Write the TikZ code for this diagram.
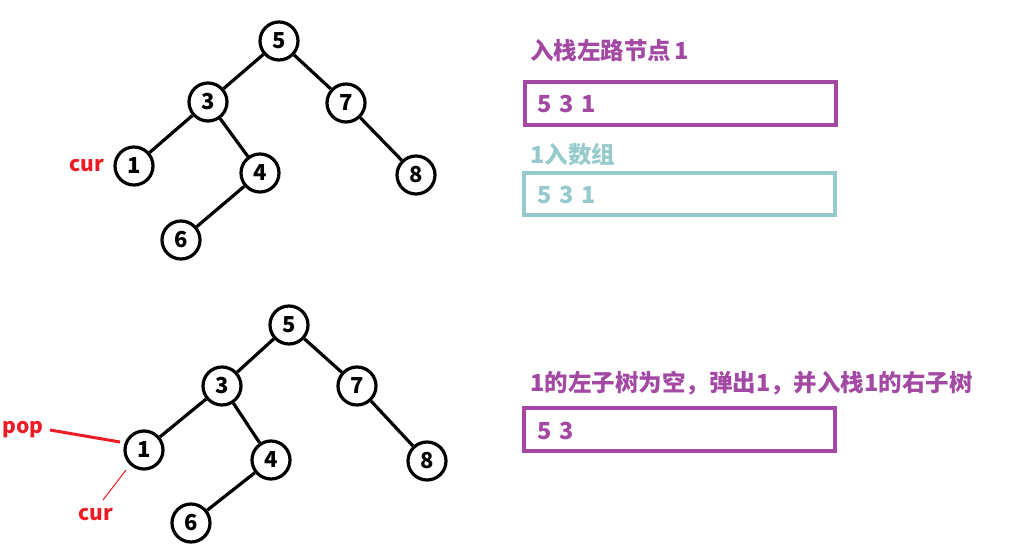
\documentclass[tikz,border=0pt]{standalone}
\usepackage{fontspec}
\setmainfont{Noto Sans CJK SC}
\newfontfamily\cjk{Noto Sans CJK SC}
\definecolor{ppl}{RGB}{163,73,164}
\definecolor{teal2}{RGB}{150,202,204}
\definecolor{red2}{RGB}{237,28,36}
\begin{document}
\begin{tikzpicture}[x=1pt,y=-1pt,
  tn/.style={circle,draw=black,line width=3.2pt,minimum size=38pt,inner sep=0pt,font=\cjk\bfseries\fontsize{22}{22}\selectfont},
  ed/.style={line width=3.2pt},
  lab/.style={anchor=west,inner sep=0pt,font=\cjk\bfseries\fontsize{23.5}{23.5}\selectfont},
  sbox/.style={draw,line width=3.4pt,inner sep=0pt},
  redlab/.style={text=red2,inner sep=0pt,font=\cjk\bfseries\fontsize{21}{21}\selectfont}]
\useasboundingbox (0,0) rectangle (1033,556);
% top tree
\node[tn] (a5) at (279,41) {5};
\node[tn] (a3) at (208,102) {3};
\node[tn] (a7) at (346,103) {7};
\node[tn] (a1) at (134,166) {1};
\node[tn] (a4) at (260,173) {4};
\node[tn] (a8) at (416,175) {8};
\node[tn] (a6) at (181,240) {6};
\draw[ed] (a5)--(a3); \draw[ed] (a5)--(a7); \draw[ed] (a3)--(a1);
\draw[ed] (a3)--(a4); \draw[ed] (a7)--(a8); \draw[ed] (a4)--(a6);
\node[redlab] (cur1) at (87,166) {cur};
% bottom tree
\node[tn] (b5) at (289,325) {5};
\node[tn] (b3) at (222,386) {3};
\node[tn] (b7) at (357,386) {7};
\node[tn] (b1) at (144,450) {1};
\node[tn] (b4) at (271,460) {4};
\node[tn] (b8) at (427,461) {8};
\node[tn] (b6) at (191,523) {6};
\draw[ed] (b5)--(b3); \draw[ed] (b5)--(b7); \draw[ed] (b3)--(b1);
\draw[ed] (b3)--(b4); \draw[ed] (b7)--(b8); \draw[ed] (b4)--(b6);
\node[redlab] (pop) at (23,430) {pop};
\node[redlab] (cur2) at (96,515) {cur};
\coordinate (popend) at (120,442);
\coordinate (popstart) at (50,430);
\draw[red2,line width=3pt] (popstart)--(popend);
\coordinate (curs) at (103,500);
\coordinate (cure) at (126,470);
\draw[red2,line width=1pt] (curs)--(cure);
% right side texts
\node[lab,text=ppl] (t1) at (530,51) {入栈左路节点\hspace{3pt}1};
\node[sbox,draw=ppl,minimum width=311pt,minimum height=43pt] (box1) at (680.5,103.5) {};
\node[lab,text=ppl] (v1) at (537,104) {5\hspace{8pt}3\hspace{8pt}1};
\node[lab,text=teal2] (t2) at (530,155) {1入数组};
\node[sbox,draw=teal2,minimum width=311pt,minimum height=42pt] (box2) at (679.5,194) {};
\node[lab,text=teal2] (v2) at (537,195) {5\hspace{8pt}3\hspace{8pt}1};
\node[lab,text=ppl] (t3) at (530,383) {1的左子树为空，弹出1，并入栈1的右子树};
\node[sbox,draw=ppl,minimum width=311pt,minimum height=43pt] (box3) at (679.5,429.5) {};
\node[lab,text=ppl] (v3) at (537,431) {5\hspace{8pt}3};
\end{tikzpicture}
\end{document}
